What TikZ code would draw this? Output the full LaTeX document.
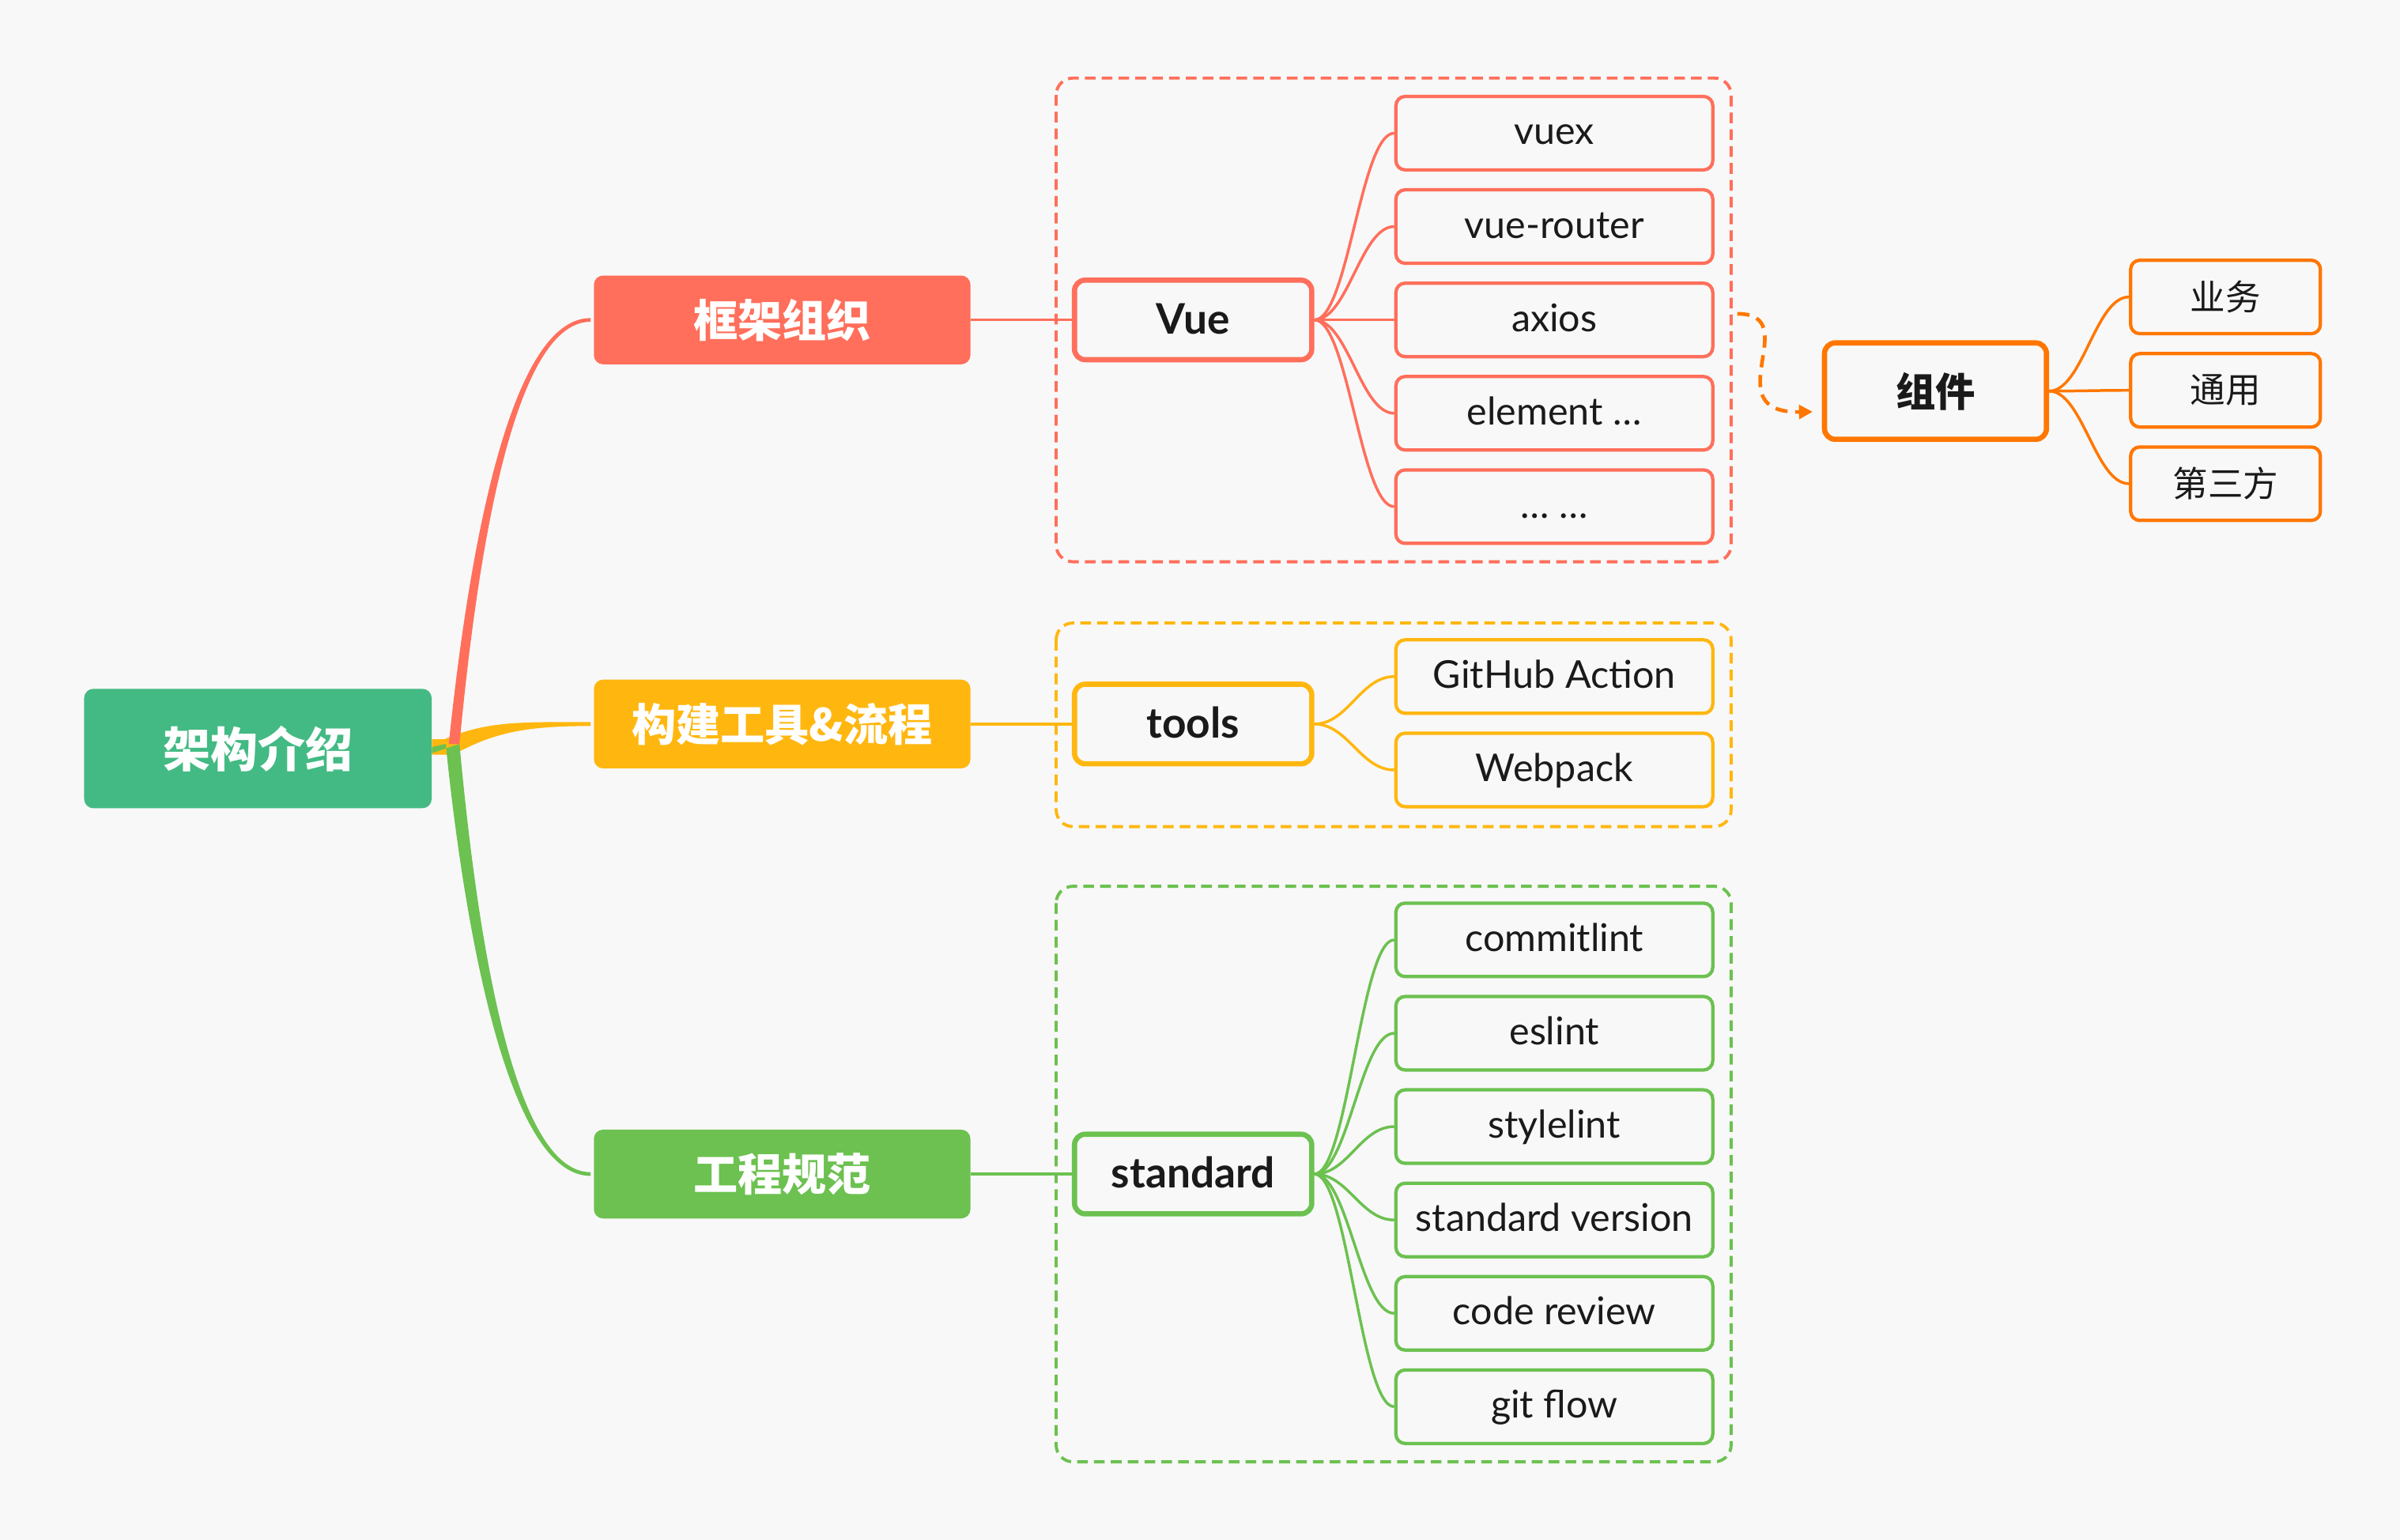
\documentclass[tikz,border=0pt]{standalone}
\usepackage{fontspec}
\setmainfont{Lato}
\newfontfamily\cjk{Noto Sans CJK SC}
\usetikzlibrary{arrows.meta,calc}
\definecolor{bg}{HTML}{F8F8F8}
\definecolor{cred}{HTML}{FF6F5B}
\definecolor{cyel}{HTML}{FFB710}
\definecolor{cgrn}{HTML}{6CC150}
\definecolor{croot}{HTML}{43BA83}
\definecolor{corg}{HTML}{FF7700}
\definecolor{ctxt}{HTML}{1A1A1A}
\tikzset{
 leaf/.style={draw=#1, line width=2.2, rounded corners=6, minimum width=207, minimum height=48, inner sep=0, font=\fontsize{25}{25}\selectfont, text=ctxt, text height=20, text depth=5},
 cjkleaf/.style={leaf=#1, minimum width=124, font=\cjk\fontsize{23}{23}\selectfont, text height=, text depth=},
 sub/.style={draw=#1, line width=3.4, rounded corners=7, minimum width=155, minimum height=52, inner sep=0, font=\fontsize{27.5}{27.5}\selectfont\bfseries, text=ctxt, text height=22, text depth=4},
 branch/.style={fill=#1, rounded corners=6, minimum width=246, minimum height=58, inner sep=0, font=\cjk\bfseries\fontsize{29}{29}\selectfont, text=white},
 rootbox/.style={fill=croot, rounded corners=6, minimum width=227, minimum height=78, inner sep=0, font=\cjk\bfseries\fontsize{31}{31}\selectfont, text=white},
 cbox/.style={draw=#1, line width=2, dash pattern=on 7 off 4, rounded corners=11},
 link/.style={draw=#1, line width=1.8},
}
\begin{document}
\begin{tikzpicture}[x=1pt,y=-1pt]
\useasboundingbox (0,0) rectangle (1568,1006);
\fill[bg] (0,0) rectangle (1568,1006);

% root and branches
\node[rootbox] (root) at (168.5,489) {架构介绍};
\node[branch=cred] (b1) at (511,209) {框架组织};
\node[branch=cyel] (b2) at (511,473) {构建工具\&流程};
\node[branch=cgrn] (b3) at (511,767) {工程规范};

% tapered main connectors
\fill[cyel] ($(root.east)+(0,-6)$) -- ($(root.east)+(8,-6)$) .. controls +(28,-12) and +(-46,0) .. ($(b2.west)+(-2,-1.3)$) -- ++(0,2.6) .. controls +(-44,0) and +(26,-14) .. ($(root.east)+(14,4)$) -- ($(root.east)+(0,4)$) -- cycle;
\fill[cgrn] ($(root.east)+(0,-1)$) -- ($(root.east)+(9,-3)$) .. controls +(11,109) and +(-56,0) .. ($(b3.west)+(-2,1.2)$) -- ++(0,-2.4) .. controls +(-53,0) and +(10,109) .. ($(root.east)+(18,-3)$) -- ($(root.east)+(0,3)$) -- cycle;
\fill[cred] ($(root.east)+(11,-3)$) .. controls +(11,-106) and +(-56,0) .. ($(b1.west)+(-2,-1.2)$) -- ++(0,2.4) .. controls +(-53,0) and +(10,-106) .. ($(root.east)+(18,-3)$) -- cycle;

% dashed containers
\draw[cbox=cred] (690,51) rectangle (1131,367);
\draw[cbox=cyel] (690,407) rectangle (1131,540);
\draw[cbox=cgrn] (690,579) rectangle (1131,955);

% Vue group
\node[sub=cred] (vue) at (779.5,209) {Vue};
\node[leaf=cred] (v1) at (1015.5,87) {vuex};
\node[leaf=cred] (v2) at (1015.5,148) {vue-router};
\node[leaf=cred] (v3) at (1015.5,209) {axios};
\node[leaf=cred] (v4) at (1015.5,270) {element …};
\node[leaf=cred] (v5) at (1015.5,331) {… …};
\draw[link=cred] (b1.east) -- (vue.west);
\foreach \c in {v1,v2,v3,v4,v5}
  \draw[link=cred] (vue.east) .. controls +(22,0) and +(-22,0) .. (\c.west);

% tools group
\node[sub=cyel] (tools) at (779.5,473) {tools};
\node[leaf=cyel] (t1) at (1015.5,442) {GitHub Action};
\node[leaf=cyel] (t2) at (1015.5,503) {Webpack};
\draw[link=cyel] (b2.east) -- (tools.west);
\foreach \c in {t1,t2}
  \draw[link=cyel] (tools.east) .. controls +(22,0) and +(-22,0) .. (\c.west);

% standard group
\node[sub=cgrn] (std) at (779.5,767) {standard};
\node[leaf=cgrn] (s1) at (1015.5,614) {commitlint};
\node[leaf=cgrn] (s2) at (1015.5,675) {eslint};
\node[leaf=cgrn] (s3) at (1015.5,736) {stylelint};
\node[leaf=cgrn] (s4) at (1015.5,797) {standard version};
\node[leaf=cgrn] (s5) at (1015.5,858) {code review};
\node[leaf=cgrn] (s6) at (1015.5,919) {git flow};
\draw[link=cgrn] (b3.east) -- (std.west);
\foreach \c in {s1,s2,s3,s4,s5,s6}
  \draw[link=cgrn] (std.east) .. controls +(22,0) and +(-22,0) .. (\c.west);

% component group
\node[sub=corg, minimum width=145, minimum height=63, font=\cjk\bfseries\fontsize{26}{26}\selectfont, text height=, text depth=] (zj) at (1264.5,255.5) {组件};
\node[cjkleaf=corg] (z1) at (1454,194) {业务};
\node[cjkleaf=corg] (z2) at (1454,255) {通用};
\node[cjkleaf=corg] (z3) at (1454,316) {第三方};
\foreach \c in {z1,z2,z3}
  \draw[link=corg] (zj.east) .. controls +(22,0) and +(-22,0) .. (\c.west);

% dashed arrow from Vue container to component
\coordinate (ds) at (1135,205);
\draw[corg, line width=2.4, dash pattern=on 8 off 5, -{Triangle[length=9,width=9]}] (ds) .. controls +(45,0) and +(-65,1) .. ($(zj.west)+(-6,13.5)$);
\end{tikzpicture}
\end{document}
